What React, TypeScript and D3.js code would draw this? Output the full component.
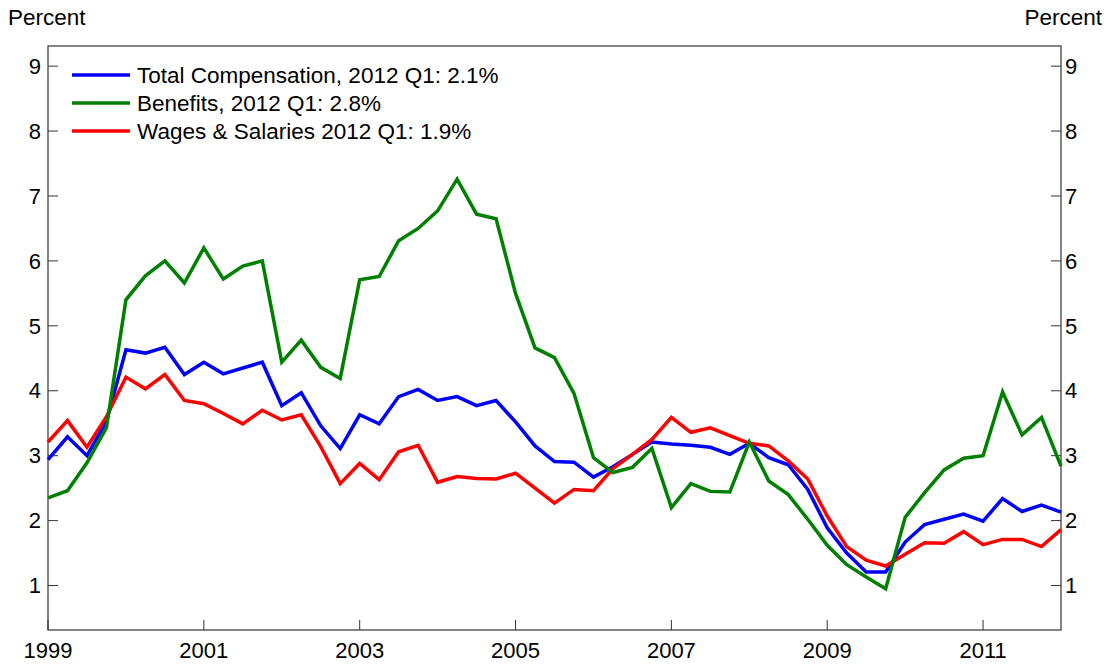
import React, { useEffect, useRef } from 'react';
import * as d3 from 'd3';

// quarterly series, 1999 Q1 .. 2012 Q1
const totalComp = [
  2.94, 3.29, 3.0, 3.53, 4.63, 4.58, 4.67, 4.25, 4.44, 4.26, 4.35, 4.44, 3.77, 3.97, 3.46, 3.11,
  3.63, 3.49, 3.91, 4.02, 3.85, 3.91, 3.77, 3.85, 3.52, 3.15, 2.91, 2.9, 2.67, 2.83, 3.02, 3.21,
  3.18, 3.16, 3.13, 3.02, 3.19, 2.97, 2.86, 2.48, 1.89, 1.5, 1.21, 1.21, 1.67, 1.94, 2.02, 2.1,
  1.99, 2.34, 2.14, 2.24, 2.13,
];
const benefits = [
  2.35, 2.46, 2.89, 3.43, 5.4, 5.77, 6.0, 5.66, 6.2, 5.72, 5.92, 6.0, 4.44, 4.78, 4.36, 4.19,
  5.71, 5.76, 6.31, 6.5, 6.77, 7.26, 6.72, 6.65, 5.5, 4.66, 4.51, 3.96, 2.97, 2.74, 2.82, 3.11,
  2.2, 2.57, 2.45, 2.44, 3.21, 2.61, 2.4, 2.02, 1.62, 1.32, 1.13, 0.95, 2.05, 2.43, 2.78, 2.96,
  3.0, 3.98, 3.32, 3.59, 2.84,
];
const wages = [
  3.21, 3.54, 3.13, 3.6, 4.21, 4.03, 4.25, 3.85, 3.8, 3.65, 3.49, 3.7, 3.55, 3.63, 3.14, 2.57,
  2.88, 2.63, 3.06, 3.16, 2.59, 2.68, 2.65, 2.64, 2.73, 2.5, 2.27, 2.48, 2.46, 2.8, 3.02, 3.25,
  3.59, 3.36, 3.43, 3.31, 3.19, 3.15, 2.92, 2.64, 2.07, 1.6, 1.39, 1.3, 1.48, 1.66, 1.65, 1.83,
  1.63, 1.71, 1.71, 1.6, 1.86,
];

const seriesNames = [
  'Total Compensation, 2012 Q1: 2.1%',
  'Benefits, 2012 Q1: 2.8%',
  'Wages & Salaries 2012 Q1: 1.9%',
];
const seriesColors = ['#0000ff', '#008000', '#ff0000'];
const xTicks = [1999, 2001, 2003, 2005, 2007, 2009, 2011];
const yTicks = [1, 2, 3, 4, 5, 6, 7, 8, 9];

const App = () => {
  const svgRef = useRef(null);

  useEffect(() => {
    const svg = d3.select(svgRef.current);
    svg.selectAll('*').remove();

    const left = 48, right = 1061, top = 46, bottom = 630;
    const font = 'Liberation Sans, Arial, sans-serif';

    const x = d3.scaleLinear().domain([1999, 2012]).range([left, right]);
    const y = d3.scaleLinear().domain([0.315, 9.31]).range([bottom, top]);

    const allSeries = [totalComp, benefits, wages];

    // frame
    svg.append('rect')
      .attr('x', left).attr('y', top)
      .attr('width', right - left).attr('height', bottom - top)
      .attr('fill', 'none').attr('stroke', '#333').attr('stroke-width', 1.2);

    // y ticks both sides
    const yg = svg.append('g').style('font-family', font).style('font-size', '22px');
    yTicks.forEach(t => {
      yg.append('line').attr('x1', left).attr('x2', left + 10)
        .attr('y1', y(t)).attr('y2', y(t)).attr('stroke', '#333');
      yg.append('line').attr('x1', right - 10).attr('x2', right)
        .attr('y1', y(t)).attr('y2', y(t)).attr('stroke', '#333');
      yg.append('text').attr('x', left - 7).attr('y', y(t)).attr('dy', '0.35em')
        .attr('text-anchor', 'end').text(t);
      yg.append('text').attr('x', right + 4).attr('y', y(t)).attr('dy', '0.35em')
        .attr('text-anchor', 'start').text(t);
    });

    // x ticks
    const xg = svg.append('g').style('font-family', font).style('font-size', '22px');
    xTicks.forEach(t => {
      xg.append('line').attr('x1', x(t)).attr('x2', x(t))
        .attr('y1', bottom).attr('y2', bottom - 10).attr('stroke', '#333');
      xg.append('text').attr('x', x(t)).attr('y', 658)
        .attr('text-anchor', 'middle').text(t);
    });

    // unit labels
    svg.append('text').attr('x', 8).attr('y', 25)
      .style('font-family', font).style('font-size', '22.5px').text('Percent');
    svg.append('text').attr('x', 1102).attr('y', 25).attr('text-anchor', 'end')
      .style('font-family', font).style('font-size', '22.5px').text('Percent');

    // lines
    const line = d3.line<number>()
      .x((d, i) => x(1999 + i / 4))
      .y(d => y(d));

    [0, 2, 1].forEach(k => {
      svg.append('path')
        .datum(allSeries[k])
        .attr('d', line)
        .attr('fill', 'none')
        .attr('stroke', seriesColors[k])
        .attr('stroke-width', 3.5)
        .attr('stroke-linejoin', 'miter');
    });

    // legend
    const lg = svg.append('g').style('font-family', font).style('font-size', '22.5px');
    seriesNames.forEach((name, k) => {
      const ly = 75 + k * 28;
      lg.append('line').attr('x1', 72).attr('x2', 130).attr('y1', ly).attr('y2', ly)
        .attr('stroke', seriesColors[k]).attr('stroke-width', 3.5);
      lg.append('text').attr('x', 137).attr('y', ly + 7.5).text(name);
    });
  }, []);

  return (
    <svg
      ref={svgRef}
      width={1112}
      height={665}
      style={{ position: 'absolute', left: 0, top: 0, background: '#fff' }}
    />
  );
};

export default App;
